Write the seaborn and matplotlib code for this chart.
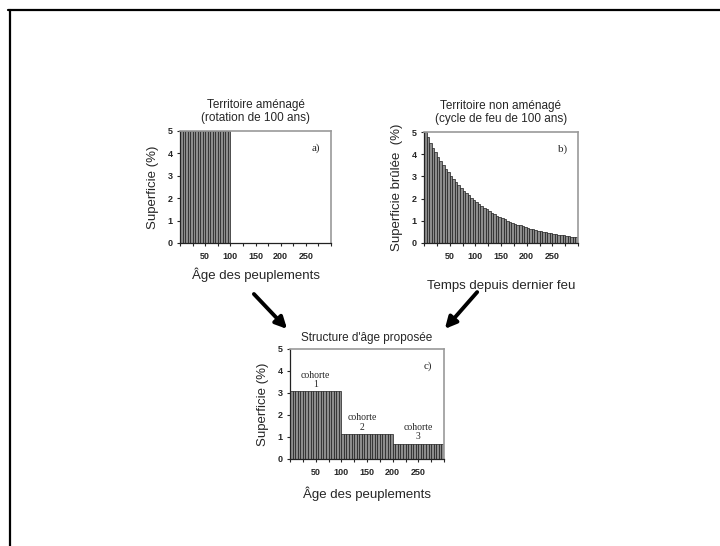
import numpy as np
import pandas as pd
import matplotlib
matplotlib.use("Agg")
import matplotlib.pyplot as plt
from matplotlib.patches import FancyArrowPatch
from matplotlib.lines import Line2D
import seaborn as sns

# -------------------------------
# DATA (5-year age classes, % of area)
# -------------------------------
age_classes = np.arange(2.5, 300, 5)          # class midpoints 0-300 yrs

# a) managed territory, 100-yr rotation
managed_pct = [5.0] * 20 + [0.0] * 40

# b) unmanaged territory, 100-yr fire cycle
burned_pct = [5.00, 4.76, 4.52, 4.30, 4.09, 3.89, 3.70, 3.52, 3.35, 3.19,
              3.03, 2.88, 2.74, 2.61, 2.48, 2.36, 2.25, 2.14, 2.03, 1.93,
              1.84, 1.75, 1.66, 1.58, 1.51, 1.43, 1.36, 1.30, 1.23, 1.17,
              1.12, 1.06, 1.01, 0.96, 0.91, 0.87, 0.83, 0.79, 0.75, 0.71,
              0.68, 0.64, 0.61, 0.58, 0.55, 0.53, 0.50, 0.48, 0.45, 0.43,
              0.41, 0.39, 0.37, 0.35, 0.34, 0.32, 0.30, 0.29, 0.28, 0.26]

# c) proposed structure, three cohorts
cohort_pct = [3.1] * 20 + [1.15] * 20 + [0.7] * 20
cohort_labels = ["cohorte\n1", "cohorte\n2", "cohorte\n3"]
cohort_x = [50, 140, 250]
cohort_y = [3.2, 1.25, 0.8]

xtick_pos = list(range(0, 301, 25))
xtick_labels = ["", "", "50", "", "100", "", "150", "", "200", "", "250", "", ""]
ytick_pos = [0, 1, 2, 3, 4, 5]

titles = ["Territoire aménagé\n(rotation de 100 ans)",
          "Territoire non aménagé\n(cycle de feu de 100 ans)",
          "Structure d'âge proposée"]
ylabels = ["Superficie (%)", "Superficie brûlée  (%)", "Superficie (%)"]
xlabels = ["Âge des peuplements", "Temps depuis dernier feu", "Âge des peuplements"]
panel_tags = ["a)", "b)", "c)"]

# -------------------------------
# FIGURE
# -------------------------------
sns.set_style("ticks")
plt.rcParams["font.family"] = ["Liberation Sans", "DejaVu Sans"]

fig = plt.figure(figsize=(7.2, 5.46), dpi=100)

positions = [
    [180 / 720, 1 - 243 / 546, 151 / 720, 112 / 546],
    [424 / 720, 1 - 243 / 546, 154 / 720, 111 / 546],
    [290 / 720, 1 - 459 / 546, 154 / 720, 110 / 546],
]
series = [managed_pct, burned_pct, cohort_pct]
xlabel_pads = [5, 14, 7]
title_pads = [7, 7, 6]

axes = []
for i, (pos, vals) in enumerate(zip(positions, series)):
    ax = fig.add_axes(pos)
    df = pd.DataFrame({"age": age_classes, "pct": vals})
    sns.histplot(data=df, x="age", weights="pct", bins=60, binrange=(0, 300),
                 ax=ax, color="#8c8c8c", edgecolor="#1e1e1e", linewidth=0.5,
                 alpha=1)
    ax.set_xlim(0, 300)
    ax.set_ylim(0, 5)
    ax.set_xticks(xtick_pos)
    ax.set_xticklabels(xtick_labels, fontsize=6.5, fontweight="bold")
    ax.set_yticks(ytick_pos)
    ax.set_yticklabels([str(v) for v in ytick_pos], fontsize=6.5, fontweight="bold")
    ax.tick_params(axis="x", direction="out", length=2.5, width=0.8, pad=4)
    ax.tick_params(axis="y", direction="out", length=2.5, width=0.8, pad=3)
    ax.set_title(titles[i], fontsize=8.5, pad=title_pads[i], linespacing=1.15)
    ax.set_ylabel(ylabels[i], fontsize=9.5, labelpad=6)
    ax.set_xlabel(xlabels[i], fontsize=9.5, labelpad=xlabel_pads[i])
    for s in ["left", "bottom"]:
        ax.spines[s].set_color("#222222")
        ax.spines[s].set_linewidth(0.9)
    for s in ["top", "right"]:
        ax.spines[s].set_color("#9a9a9a")
        ax.spines[s].set_linewidth(1.2)
        ax.spines[s].set_visible(True)
    ax.text(0.87, 0.82, panel_tags[i], transform=ax.transAxes,
            fontsize=8, family=["Liberation Serif", "DejaVu Serif"])
    axes.append(ax)

for lab, x, y in zip(cohort_labels, cohort_x, cohort_y):
    axes[2].text(x, y, lab, ha="center", va="bottom", fontsize=7,
                 linespacing=1.0, family=["Liberation Serif", "DejaVu Serif"])

# arrows linking the panels
for (x0, y0), (x1, y1) in [((252, 292), (289, 331)), ((479, 290), (443, 331))]:
    arr = FancyArrowPatch((x0 / 720, 1 - y0 / 546), (x1 / 720, 1 - y1 / 546),
                          transform=fig.transFigure, arrowstyle="-|>",
                          mutation_scale=17, linewidth=2.8, color="black")
    fig.add_artist(arr)

# outer frame (top and left edges only)
fig.add_artist(Line2D([8 / 720, 1], [1 - 10 / 546, 1 - 10 / 546],
                      transform=fig.transFigure, color="black", linewidth=1.6))
fig.add_artist(Line2D([10 / 720, 10 / 720], [0, 1 - 10 / 546],
                      transform=fig.transFigure, color="black", linewidth=1.6))

fig.savefig("out.png", dpi=100, facecolor="white")
